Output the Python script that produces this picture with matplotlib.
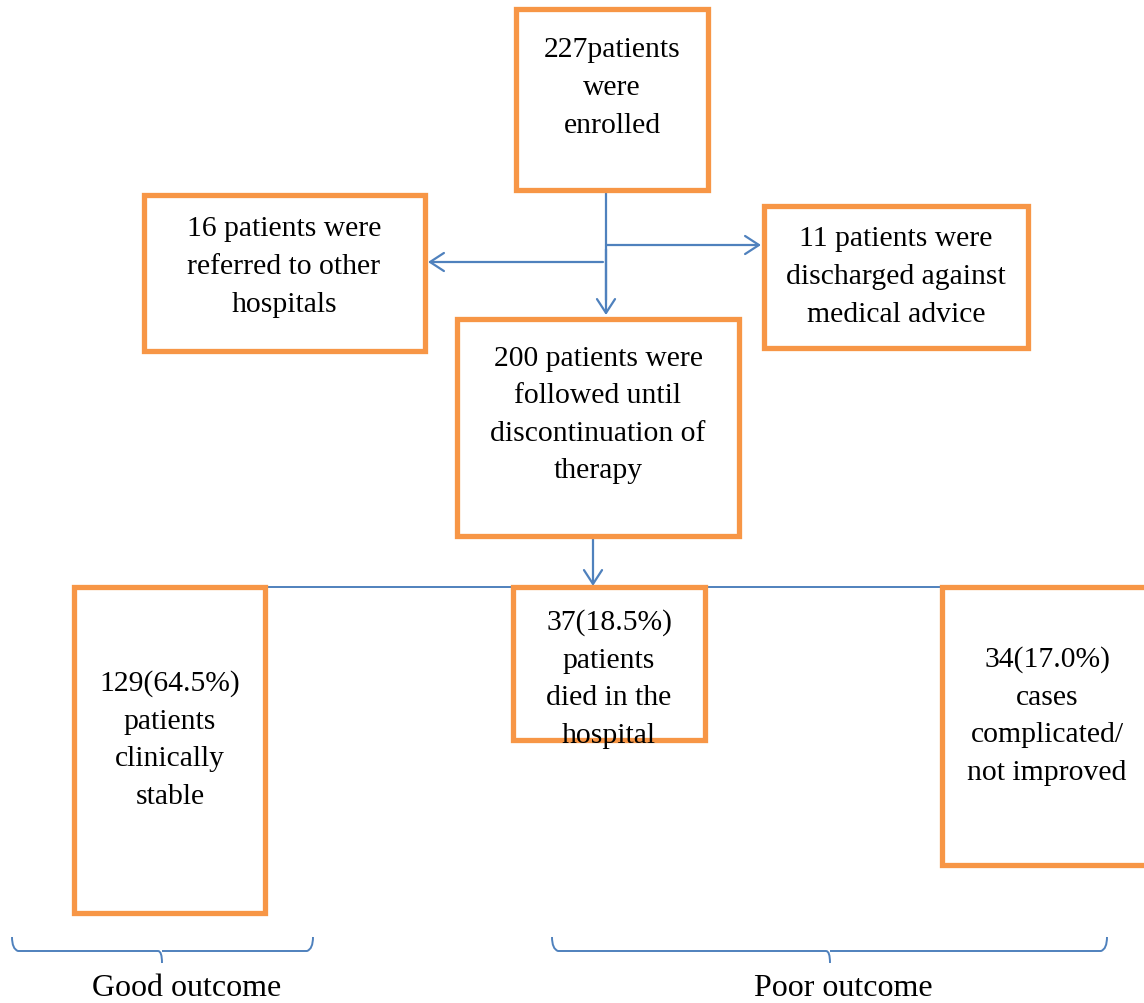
import matplotlib
matplotlib.use("Agg")
import matplotlib.pyplot as plt
from matplotlib.patches import Rectangle
from matplotlib.path import Path
from matplotlib.patches import PathPatch

# box texts
box_texts = [
    "227patients\nwere\nenrolled",
    "16 patients were\nreferred to other\nhospitals",
    "11 patients were\ndischarged against\nmedical advice",
    "200 patients were\nfollowed until\ndiscontinuation of\ntherapy",
    "129(64.5%)\npatients\nclinically\nstable",
    "37(18.5%)\npatients\ndied in the\nhospital",
    "34(17.0%)\ncases\ncomplicated/\nnot improved",
]
group_labels = ["Good outcome", "Poor outcome"]

# layout in pixel coords: (x0, y0, x1, y1), text centre (x, y)
boxes = [
    (516, 10, 708, 191, 612, 88),
    (144, 196, 425, 352, 284, 267),
    (764, 207, 1028, 349, 896, 277),
    (457, 320, 739, 537, 598, 415),
    (74, 588, 265, 914, 170, 740),
    (513, 588, 705, 741, 609, 679),
    (942, 588, 1160, 866, 1047, 716),
]
brackets = [(12, 313, 162, 187), (552, 1107, 830, 843)]

ORANGE = "#F79646"
BLUE = "#4F81BD"
W, H = 1144, 1004

fig = plt.figure(figsize=(W / 100, H / 100), dpi=100)
ax = fig.add_axes([0, 0, 1, 1])
ax.set_xlim(0, W)
ax.set_ylim(H, 0)
ax.axis("off")

font = dict(family="Liberation Serif", fontsize=21.3)

arrow_kw = dict(arrowstyle="->,head_length=1.0,head_width=0.65", color=BLUE,
                lw=1.6, shrinkA=0, shrinkB=0)

# connector lines (behind boxes)
ax.plot([606, 606], [191, 300], color=BLUE, lw=1.6, zorder=1)
ax.annotate("", xy=(606, 316), xytext=(606, 250), arrowprops=arrow_kw, zorder=1)
ax.annotate("", xy=(761, 246), xytext=(606, 246), arrowprops=arrow_kw, zorder=1)
ax.annotate("", xy=(428, 263), xytext=(603, 263), arrowprops=arrow_kw, zorder=1)
ax.annotate("", xy=(593, 587), xytext=(593, 537), arrowprops=arrow_kw, zorder=1)
ax.plot([265, 1144], [588, 588], color=BLUE, lw=1.4, zorder=1)

for (x0, y0, x1, y1, tx, ty), txt in zip(boxes, box_texts):
    ax.add_patch(Rectangle((x0, y0), x1 - x0, y1 - y0, facecolor="white",
                           edgecolor=ORANGE, lw=3.8, zorder=2))
    ax.text(tx, ty, txt, ha="center", va="center", linespacing=1.58,
            zorder=3, **font)

# curly brackets under outcome groups
for (xa, xb, xm, xl), lab in zip(brackets, group_labels):
    verts = [(xa, 938), (xa, 950), (xa + 6, 952), (xm - 4, 952), (xm, 952),
             (xm, 964), (xm, 952), (xm + 4, 952), (xb - 6, 952), (xb, 950),
             (xb, 938)]
    codes = [Path.MOVETO, Path.CURVE3, Path.CURVE3, Path.LINETO, Path.CURVE3,
             Path.LINETO, Path.MOVETO, Path.LINETO, Path.LINETO, Path.CURVE3,
             Path.CURVE3]
    ax.add_patch(PathPatch(Path(verts, codes), facecolor="none",
                           edgecolor=BLUE, lw=1.4))
    ax.text(xl, 989, lab, ha="center", va="center",
            family="Liberation Serif", fontsize=23)

fig.savefig("out.png", dpi=100, facecolor="white")
